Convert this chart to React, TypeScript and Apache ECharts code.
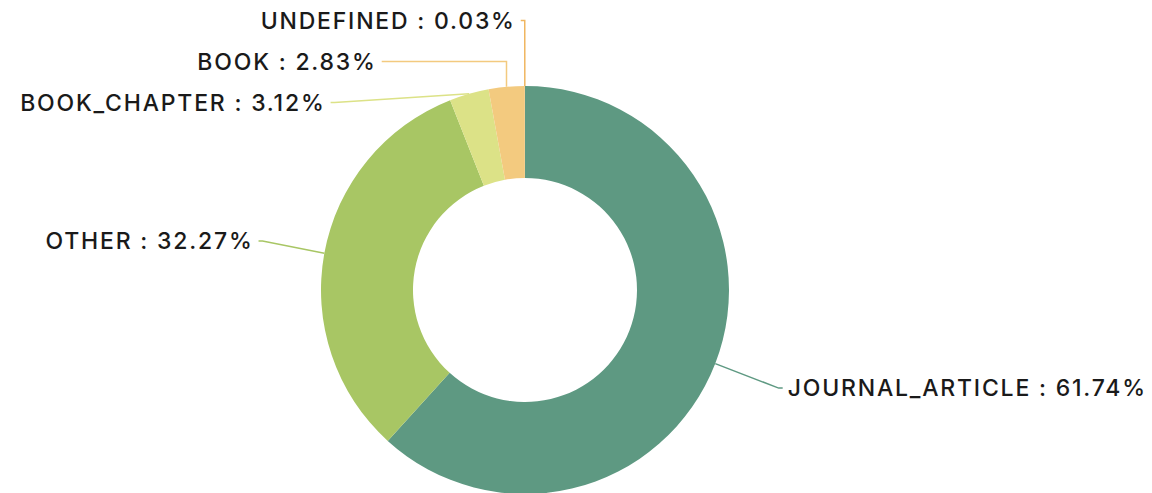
import React, { useEffect, useRef } from "react";
import * as echarts from "echarts";

const categories = ["JOURNAL_ARTICLE", "OTHER", "BOOK_CHAPTER", "BOOK", "UNDEFINED"];
const values = [61.74, 32.27, 3.12, 2.83, 0.03];
const colors = ["#5e9982", "#a8c664", "#dce287", "#f3ca7f", "#f0b660"];

const CENTER = [525, 290];

export default function App() {
  const ref = useRef<HTMLDivElement>(null);
  useEffect(() => {
    document.body.style.margin = "0";
    const chart = echarts.init(ref.current!, null, { renderer: "svg" });
    chart.setOption({
      animation: false,
      color: colors,
      series: [
        {
          type: "pie",
          center: CENTER,
          radius: [112, 204],
          startAngle: 90,
          clockwise: true,
          data: categories.map((c, i) => ({ name: c, value: values[i] })),
          label: {
            formatter: (p: any) => `${p.name} : ${p.value.toFixed(2)}%`,
            fontFamily: "Inter",
            fontSize: 23,
            fontWeight: 500,
            color: "#1a1a1a",
            lineHeight: 39,
          },
          labelLine: { length: 68, length2: 4, lineStyle: { width: 1.5 } },
          labelLayout: (params: any) => {
            const pts = params.labelLinePoints;
            if (!pts || pts.length < 3) return {};
            const p0 = pts[0], p1 = pts[1], p2 = pts[2];
            const rx = p0[0] - CENTER[0], ry = p0[1] - CENTER[1];
            const rl = Math.hypot(rx, ry) || 1;
            const sx = p1[0] - p0[0], sy = p1[1] - p0[1];
            const sl = Math.hypot(sx, sy) || 1;
            const dot = (rx * sx + ry * sy) / (rl * sl);
            if (dot < 0.99 && p2[1] < p0[1]) {
              return {
                labelLinePoints: [
                  [p0[0], p0[1]],
                  [p0[0], p2[1]],
                  [p2[0], p2[1]],
                ],
              };
            }
            return {};
          },
          itemStyle: { borderWidth: 0 },
          emphasis: { disabled: true },
        },
      ],
    });
    return () => chart.dispose();
  }, []);
  return (
    <>
      <style>{"#chart-root svg text { letter-spacing: 1.8px; }"}</style>
      <div id="chart-root" ref={ref} style={{ width: 1152, height: 493 }} />
    </>
  );
}
